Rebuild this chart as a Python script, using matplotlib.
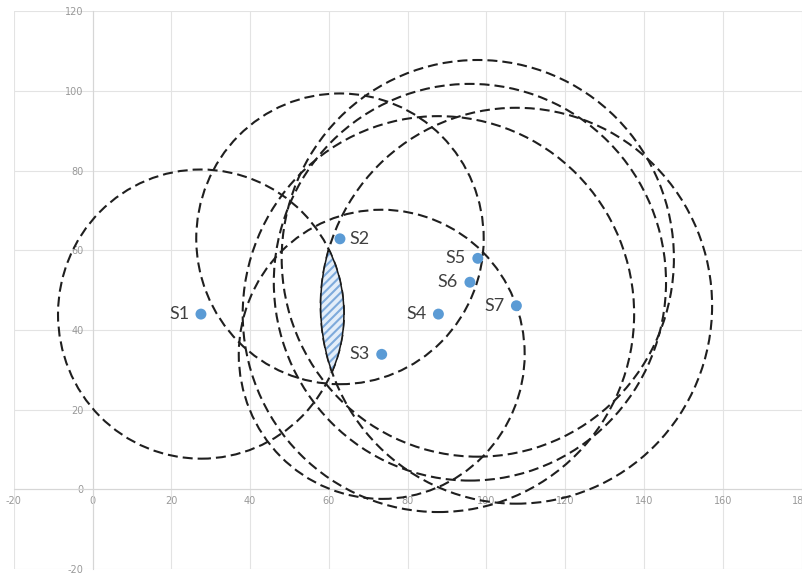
import numpy as np
import matplotlib
matplotlib.use("Agg")
import matplotlib.pyplot as plt
from matplotlib.patches import Circle, Polygon

plt.rcParams["axes.unicode_minus"] = False
plt.rcParams["hatch.linewidth"] = 1.5

# Sensor positions
sensor_names = ["S1", "S2", "S3", "S4", "S5", "S6", "S7"]
sensor_x = [27.5, 62.8, 73.4, 87.8, 97.8, 95.8, 107.6]
sensor_y = [44.0, 62.9, 33.9, 44.0, 58.0, 52.0, 46.1]

# Range circle around each sensor
range_radius = [36.3, 36.5, 36.3, 49.7, 49.8, 49.8, 49.7]

# The two range circles whose overlap is shaded
lens_pair = (0, 6)

x_ticks = list(range(-20, 181, 20))
y_ticks = list(range(-20, 121, 20))

W, H = 803, 573
fig = plt.figure(figsize=(W / 100, H / 100), dpi=100)
ax = fig.add_axes([13.9 / W, 4.0 / H, 787.6 / W, 557.6 / H])
ax.set_xlim(-20, 180)
ax.set_ylim(-20, 120)

grid_col = "#e3e3e3"
ax.set_xticks(x_ticks)
ax.set_yticks(y_ticks)
ax.grid(True, color=grid_col, linewidth=0.8, zorder=0)
ax.set_axisbelow(True)
for side in ("top", "right"):
    ax.spines[side].set_visible(False)
ax.spines["left"].set_position(("data", 0))
ax.spines["bottom"].set_position(("data", 0))
for side in ("left", "bottom"):
    ax.spines[side].set_color("#d6d6d6")
    ax.spines[side].set_linewidth(0.8)
ax.tick_params(axis="both", length=0, labelsize=7, labelcolor="#999999")
ax.tick_params(axis="y", pad=6.5)
ax.tick_params(axis="x", pad=5.0)

# Dashed range circles
for cx, cy, r in zip(sensor_x, sensor_y, range_radius):
    ax.add_patch(Circle((cx, cy), r, fill=False, edgecolor="#1f1f1f",
                        linewidth=1.5, linestyle=(0, (4.8, 2.4)), zorder=3))

# Overlap region of the selected pair
i, j = lens_pair
c1 = np.array([sensor_x[i], sensor_y[i]]); r1 = range_radius[i]
c2 = np.array([sensor_x[j], sensor_y[j]]); r2 = range_radius[j]
d = np.linalg.norm(c2 - c1)
a = (d**2 + r1**2 - r2**2) / (2 * d)
h = np.sqrt(r1**2 - a**2)
u = (c2 - c1) / d
perp = np.array([-u[1], u[0]])
p_mid = c1 + a * u
pA = p_mid + h * perp
pB = p_mid - h * perp

def arc(center, radius, p_start, p_end, n=80):
    t0 = np.arctan2(*(p_start - center)[::-1])
    t1 = np.arctan2(*(p_end - center)[::-1])
    if t1 < t0:
        t1 += 2 * np.pi
    if t1 - t0 > np.pi:
        t0, t1 = t1, t0 + 2 * np.pi
    t = np.linspace(t0, t1, n)
    return np.column_stack([center[0] + radius * np.cos(t), center[1] + radius * np.sin(t)])

arc1 = arc(c1, r1, pB, pA)
arc2 = arc(c2, r2, pA, pB)
if np.linalg.norm(arc1[-1] - pA) > 1e-6:
    arc1 = arc1[::-1]
if np.linalg.norm(arc2[0] - arc1[-1]) > 1e-6:
    arc2 = arc2[::-1]
lens = np.vstack([arc1, arc2])

ax.add_patch(Polygon(lens, closed=True, facecolor="#e4eef9", edgecolor="#7eaadb",
                     hatch="////", linewidth=0, zorder=4))
ax.add_patch(Polygon(lens, closed=True, fill=False, edgecolor="#1a1a1a",
                     linewidth=1.1, zorder=5))

# Sensors
ax.scatter(sensor_x, sensor_y, s=62, color="#5B9BD5", edgecolors="none", zorder=6)
for name, x, y in zip(sensor_names, sensor_x, sensor_y):
    if name == "S2":
        ax.annotate(name, (x, y), xytext=(6.5, 0), textcoords="offset points",
                    ha="left", va="center", fontsize=13, color="#404040",
                    family="Lato", zorder=7)
    else:
        ax.annotate(name, (x, y), xytext=(-8.5, 0), textcoords="offset points",
                    ha="right", va="center", fontsize=13, color="#404040",
                    family="Lato", zorder=7)

fig.savefig("out.png", dpi=100)
